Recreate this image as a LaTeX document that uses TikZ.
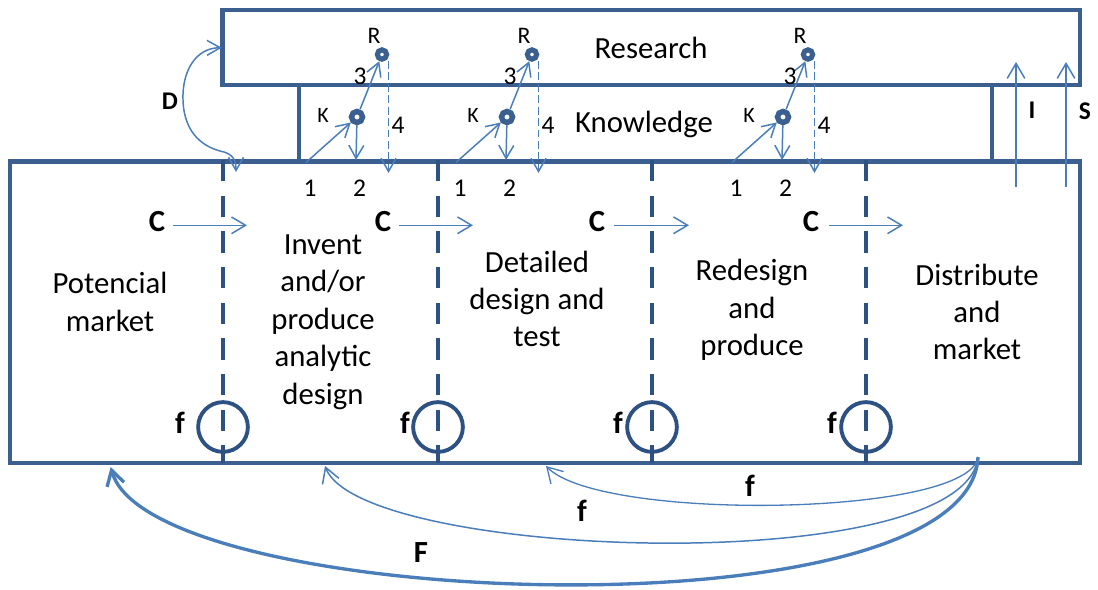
\documentclass[tikz,border=0pt]{standalone}
\usepackage{fontspec}
\setmainfont{Carlito}
\usetikzlibrary{arrows.meta}
\definecolor{boxblue}{HTML}{3B6090}
\definecolor{stageblue}{HTML}{2E5184}
\definecolor{linkblue}{HTML}{4A7EBB}
\tikzset{
  frame/.style={draw=boxblue, line width=2.3pt},
  stageline/.style={draw=stageblue, line width=2.5pt, dash pattern=on 12.2pt off 8.1pt},
  gate/.style={circle, draw=stageblue, line width=2.2pt, minimum size=28.3pt, inner sep=0pt},
  hubK/.style={circle, draw=boxblue, line width=3.1pt, minimum size=6.3pt, inner sep=0pt},
  hubR/.style={circle, draw=boxblue, line width=2.9pt, minimum size=5.3pt, inner sep=0pt},
  barb/.tip={Straight Barb[length=7.5pt,width=8.5pt]},
  bigbarb/.tip={Straight Barb[length=8.5pt,width=10pt]},
  link/.style={draw=linkblue, line width=0.85pt, -barb},
  backlink/.style={draw=linkblue, dash pattern=on 4.5pt off 2pt, line width=0.85pt, -barb},
  feedback/.style={draw=linkblue, -bigbarb},
  frametext/.style={font=\fontsize{17.5}{21.3}\selectfont, inner sep=0pt},
  stagetext/.style={font=\fontsize{17.5}{21.3}\selectfont, align=center, inner sep=0pt},
  tag/.style={font=\fontsize{17.5}{21}\selectfont\bfseries, inner sep=0pt},
  smalltag/.style={font=\fontsize{14.5}{17}\selectfont\bfseries, inner sep=0pt},
  numtag/.style={font=\fontsize{14.5}{17}\selectfont, inner sep=0pt},
  ktag/.style={font=\fontsize{12.5}{15}\selectfont, inner sep=0pt},
  rtag/.style={font=\fontsize{13.5}{16}\selectfont, inner sep=0pt},
}
\begin{document}
\begin{tikzpicture}[x=0.02cm,y=-0.02cm]
\useasboundingbox (0,0) rectangle (1098,590);

% frames: research strip, knowledge strip, chain of innovation
\coordinate (resNW) at (222.5,10);
\coordinate (resSE) at (1080,85);
\coordinate (knwNW) at (299,85);
\coordinate (knwSW) at (299,161.5);
\coordinate (knwNE) at (992,85);
\coordinate (knwSE) at (992,161.5);
\coordinate (mainNW) at (10,161.5);
\coordinate (mainSE) at (1080,463);
\draw[frame] (resNW) rectangle (resSE);
\draw[frame] (knwNW) -- (knwSW);
\draw[frame] (knwNE) -- (knwSE);
\draw[frame] (mainNW) rectangle (mainSE);

\node[frametext] (research) at (651,48) {Research};
\node[frametext] (knowledge) at (644,124.5) {Knowledge};

% stage borders with feedback gates
\foreach \i/\x in {1/223,2/438,3/652,4/866} {
  \coordinate (top\i) at (\x,160);
  \coordinate (bot\i) at (\x,463);
  \draw[stageline] (top\i) -- (bot\i);
  \node[gate] (gate\i) at (\x,427) {};
}
\foreach \i/\x in {1/180,2/405,3/618,4/832}
  \node[tag] (flab\i) at (\x,423) {f};

% central chain arrows C
\foreach \i/\cx/\sx/\ex in {1/157/173/247,2/383/399/473,3/597/614/689,4/811/829/903} {
  \node[tag] (clab\i) at (\cx,222) {C};
  \coordinate (cs\i) at (\sx,225.3);
  \coordinate (ce\i) at (\ex,225.3);
  \draw[link, -{Straight Barb[length=8pt,width=9.5pt]}] (cs\i) -- (ce\i);
}

% stage texts
\node[stagetext] (stage1) at (110,302) {Potencial\\market};
\node[stagetext] (stage2) at (323,322) {Invent\\and/or\\produce\\analytic\\design};
\node[stagetext] (stage3) at (537,299) {Detailed\\design and\\test};
\node[stagetext] (stage4) at (752,310) {Redesign\\and\\produce};
\node[stagetext] (stage5) at (977,312) {Distribute\\and\\market};

% links through knowledge (K) and research (R)
\foreach \i/\k/\t in {1/357/3,2/507/3,3/783/7} {
  \pgfmathsetmacro\rx{\k+25}
  \node[hubK] (k\i) at (\k,117) {};
  \node[hubR] (r\i) at (\rx,54.5) {};
  \coordinate (in\i) at (\k-51,162.5);
  \coordinate (out\i) at (\k-1,160);
  \coordinate (up\i) at (\rx+6.5,61);
  \coordinate (back\i) at (\rx+6.5,173);
  \draw[link] (in\i) -- (k\i);
  \draw[link] (k\i) -- (out\i);
  \draw[link] (k\i) -- (r\i);
  \draw[backlink] (up\i) -- (back\i);
  \node[ktag] (klab\i) at (\k-34,115) {K};
  \node[rtag] (rlab\i) at (\rx-8,36) {R};
  \node[numtag] (one\i) at (\k-47,188) {1};
  \node[numtag] (two\i) at (\k+2.5,188) {2};
  \node[numtag] (three\i) at (\k+\t,76) {3};
  \node[numtag] (four\i) at (\k+41,125) {4};
}

% D: links between research and the market
\coordinate (dTop) at (221.7,47.7);
\coordinate (dBot) at (236,172);
\draw[link, barb-barb] (dTop) .. controls (195,48) and (182,72) .. (183,100)
  .. controls (184,135) and (205,148) .. (224,152)
  .. controls (233,155) and (236,160) .. (dBot);
\node[smalltag] (dlab) at (170,101) {D};

% I and S: support of research by innovation
\coordinate (iLow) at (1016,187);
\coordinate (iHigh) at (1016,62);
\coordinate (sLow) at (1066,187);
\coordinate (sHigh) at (1066,62);
\draw[link, -{Straight Barb[length=8.5pt,width=10pt]}] (iLow) -- (iHigh);
\draw[link, -{Straight Barb[length=8.5pt,width=10pt]}] (sLow) -- (sHigh);
\node[smalltag] (ilab) at (1032,110) {I};
\node[smalltag] (slab) at (1085,111) {S};

% feedback loops from distribution back along the chain
\coordinate (fb) at (978,457);
\coordinate (fb1) at (546,466);
\coordinate (fb2) at (325,466);
\coordinate (fb3) at (110.7,467);
\draw[feedback, line width=0.75pt] (fb) .. controls (970,517) and (600,522) .. (fb1);
\draw[feedback, line width=0.85pt] (fb) .. controls (965,580) and (360,560) .. (fb2);
\draw[feedback, line width=1.9pt] (fb) .. controls (970,640) and (150,610) .. (fb3);
\node[tag] (fblab1) at (750,486) {f};
\node[tag] (fblab2) at (582,511) {f};
\node[tag] (fblab3) at (421,553) {F};
\end{tikzpicture}
\end{document}
